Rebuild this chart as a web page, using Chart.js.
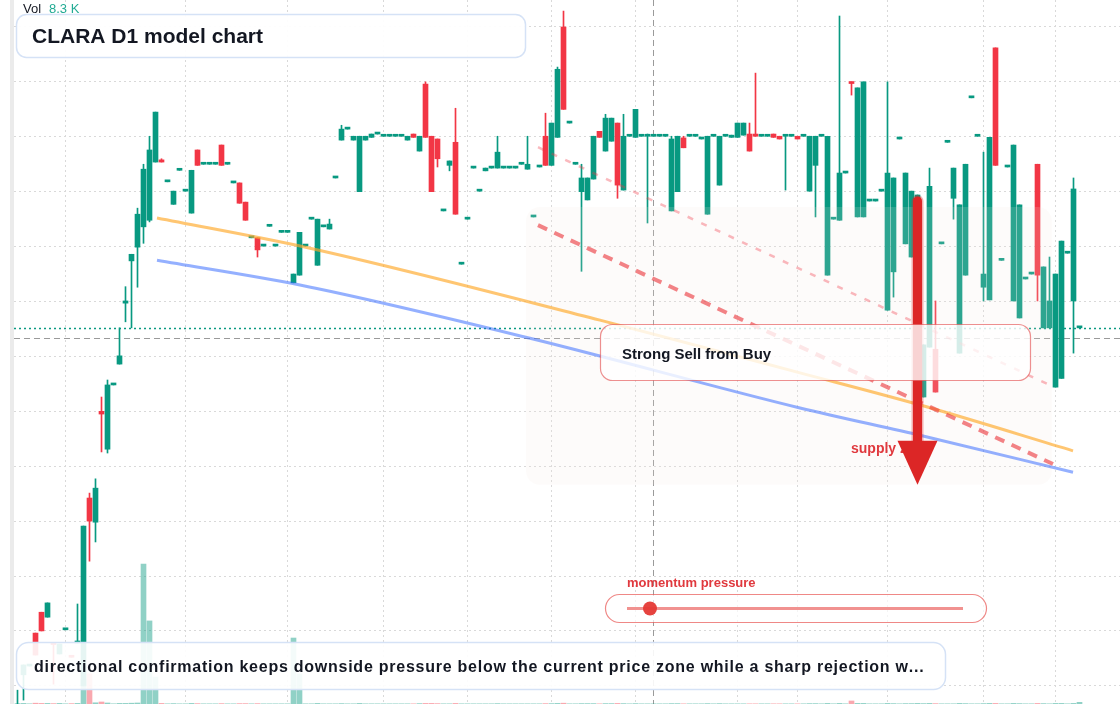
<!DOCTYPE html>
<html>
<head>
<meta charset="utf-8">
<script src="https://cdn.jsdelivr.net/npm/chart.js@4.4.1/dist/chart.umd.min.js"></script>
<style>
    html, body { margin: 0; padding: 0; background: #fff; }
    #wrap { position: relative; width: 1120px; height: 704px; overflow: hidden; }
    canvas { display: block; }
</style>
</head>
<body>
<div id="wrap"><canvas id="chart" width="1120" height="704"></canvas></div>
<script>
// ---- data (daily candles, one per session) ----
var opens = [
    9.55, 10.20, 10.36, 10.96, 11.34, 11.25, 10.77, 10.58, 11.02, 10.53,
    10.78, 10.00, 13.42, 12.98, 15.00, 14.31, 15.48, 15.86, 16.97, 17.74,
    17.99, 18.36, 18.48, 19.54, 19.58, 19.18, 18.77, 19.39, 19.01, 18.61,
    19.76, 19.50, 19.50, 19.50, 19.85, 19.50, 19.16, 19.16, 18.81, 18.16,
    18.16, 18.01, 18.37, 18.01, 18.26, 18.26, 17.34, 17.48, 18.01, 18.50,
    17.66, 18.36, 18.32, 19.25, 19.94, 20.14, 19.94, 19.00, 19.94, 19.99,
    20.05, 20.01, 20.01, 20.01, 20.01, 19.94, 20.05, 19.74, 20.96, 20.01,
    19.96, 18.65, 19.48, 19.90, 17.68, 18.50, 19.43, 19.01, 19.38, 19.43,
    19.43, 19.43, 19.43, 19.43, 19.50, 19.41, 18.54, 19.45, 20.01, 19.48,
    19.99, 22.00, 20.25, 19.50, 19.00, 18.85, 19.23, 20.10, 19.74, 19.92,
    20.25, 19.03, 20.01, 19.99, 20.01, 20.01, 20.01, 20.01, 20.01, 18.65,
    19.00, 19.98, 20.01, 20.01, 19.96, 18.59, 20.01, 19.12, 20.01, 19.99,
    19.99, 20.03, 20.05, 20.05, 20.01, 20.01, 20.05, 20.01, 20.01, 20.01,
    20.01, 20.01, 19.01, 19.48, 20.01, 17.48, 18.50, 18.48, 19.34, 21.00,
    18.54, 18.54, 18.83, 18.83, 19.01, 16.84, 17.54, 19.96, 18.05, 17.81,
    17.03, 15.26, 16.17, 16.13, 18.05, 19.90, 18.88, 16.06, 17.48, 20.71,
    20.01, 17.26, 17.03, 21.62, 17.75, 19.45, 17.01, 16.70, 17.41, 17.50,
    19.50, 16.52, 16.52, 15.44, 15.60, 17.88, 17.01, 16.52
];
var closes = [
    9.65, 10.38, 10.36, 10.56, 11.00, 11.51, 10.75, 10.76, 11.02, 10.52,
    10.79, 12.91, 13.00, 13.60, 14.95, 15.48, 15.48, 16.01, 17.01, 17.86,
    18.59, 19.41, 19.76, 20.45, 19.54, 19.18, 19.01, 19.39, 19.01, 19.39,
    19.48, 19.50, 19.50, 19.50, 19.48, 19.50, 19.16, 18.79, 18.48, 18.16,
    17.94, 18.01, 18.37, 18.01, 18.26, 18.26, 17.50, 18.26, 18.01, 18.50,
    18.50, 18.36, 18.41, 19.25, 20.14, 20.14, 20.01, 20.01, 20.01, 20.05,
    20.05, 20.01, 20.01, 20.01, 20.01, 20.01, 19.99, 20.01, 19.99, 19.00,
    19.60, 18.65, 19.56, 18.59, 17.68, 18.50, 19.43, 19.01, 19.43, 19.43,
    19.72, 19.43, 19.43, 19.43, 19.50, 19.50, 18.54, 19.45, 19.48, 20.25,
    21.23, 20.50, 20.25, 19.50, 19.25, 19.25, 20.01, 19.99, 20.34, 20.34,
    19.12, 20.01, 20.01, 20.50, 20.01, 20.01, 20.01, 20.01, 20.01, 19.96,
    20.01, 19.80, 20.01, 20.01, 19.96, 20.01, 20.01, 20.01, 20.01, 20.03,
    20.25, 20.25, 19.74, 20.01, 20.01, 20.01, 19.99, 19.96, 20.01, 20.01,
    19.96, 20.01, 20.01, 20.01, 20.01, 20.01, 18.50, 19.34, 19.34, 20.97,
    20.89, 21.00, 18.83, 18.83, 19.01, 19.34, 19.25, 19.96, 19.34, 19.01,
    18.94, 16.21, 19.10, 15.35, 18.05, 19.90, 19.43, 18.76, 19.50, 20.71,
    20.01, 17.50, 19.99, 19.48, 17.75, 19.45, 19.85, 18.76, 17.41, 17.50,
    17.48, 17.63, 17.01, 17.50, 18.10, 17.88, 19.05, 16.52
];
// null = no wick beyond the body
var highs = [
    9.92, null, null, null, null, null, null, null, null, null,
    11.49, null, 13.51, 13.77, 15.26, 15.57, null, 16.52, 17.27, null,
    18.70, 19.50, 20.01, null, 19.60, null, null, null, null, null,
    null, null, null, null, null, null, null, null, null, null,
    null, null, null, null, null, null, null, null, null, null,
    null, null, 18.50, null, 20.21, null, null, null, null, null,
    null, null, null, null, null, null, null, null, 21.00, null,
    null, null, null, 20.52, null, null, null, null, null, null,
    20.01, null, null, null, null, 20.01, null, null, 20.43, null,
    21.27, 22.29, null, null, 19.50, null, null, null, 20.41, null,
    null, 20.41, null, null, null, 20.05, null, null, null, 20.01,
    null, 20.01, null, null, null, null, null, null, null, null,
    null, null, 20.25, 21.16, null, null, null, null, null, null,
    null, null, null, null, null, null, null, 22.20, null, null,
    null, null, null, null, null, 21.00, null, null, null, null,
    null, null, 19.43, 17.01, null, null, null, null, null, null,
    null, 19.72, null, null, null, null, null, null, null, null,
    null, null, 17.81, null, null, null, 19.25, null
];
var lows = [
    9.50, 9.74, null, null, null, null, 10.03, null, null, null,
    null, null, 12.27, 12.62, 14.26, 14.24, null, null, 16.63, 16.52,
    17.26, 18.06, 18.45, null, null, null, null, null, null, null,
    null, null, null, null, null, null, null, null, null, null,
    17.81, null, null, null, null, null, null, null, null, null,
    null, null, null, null, null, null, null, null, null, null,
    null, null, null, null, null, null, null, null, null, null,
    19.45, null, 19.38, null, null, null, null, null, null, null,
    null, null, null, null, null, null, null, null, null, null,
    null, null, null, null, 17.55, null, null, null, null, null,
    18.88, null, null, null, null, 18.43, null, null, null, null,
    null, null, null, null, null, null, null, null, null, null,
    null, null, null, null, null, null, null, null, 19.03, null,
    null, null, null, 18.54, null, null, null, null, null, 20.76,
    null, null, null, null, null, null, 17.08, null, null, null,
    null, null, null, null, null, null, 18.50, null, null, null,
    null, 17.01, null, null, null, null, null, null, null, null,
    17.01, null, null, null, null, null, 16.06, null
];
// volume in thousands
var volumes = [
    2, 3, 1, 4, 3, 3, 2, 3, 1, 2,
    3, 124, 150, 6, 10, 5, 1, 3, 3, 4,
    5, 696, 413, 134, 3, 1, 2, 1, 1, 3,
    2, 1, 1, 1, 2, 1, 1, 2, 2, 1,
    2, 1, 1, 1, 1, 1, 328, 150, 1, 1,
    3, 1, 1, 1, 2, 1, 1, 3, 1, 1,
    1, 1, 1, 1, 1, 1, 1, 2, 3, 3,
    2, 1, 1, 3, 1, 1, 1, 1, 1, 1,
    2, 1, 1, 1, 1, 1, 1, 1, 2, 2,
    3, 4, 1, 1, 2, 2, 2, 1, 2, 2,
    3, 2, 1, 2, 1, 1, 1, 1, 1, 2,
    2, 1, 1, 1, 1, 2, 1, 2, 1, 1,
    1, 1, 1, 1, 1, 1, 1, 1, 1, 1,
    1, 1, 2, 2, 1, 3, 1, 3, 1, 15,
    3, 3, 1, 1, 1, 3, 2, 1, 2, 2,
    3, 2, 3, 2, 1, 1, 1, 3, 2, 1,
    1, 2, 3, 3, 1, 1, 3, 2, 1, 1,
    3, 2, 1, 3, 3, 1, 3, 8.3
];
var volLabel = '8.3 K';

// grid ticks (bar index for verticals, price for horizontals)
var gridIdx = [8, 28, 45, 61, 75, 89, 103, 120, 130, 145, 161, 173];
var gridPrices = [10, 11, 12, 13, 14, 15, 16, 17, 18, 19, 20, 21, 22];

// drawn studies, in bar index / price
var orangeIdx = [23.25, 48.75, 97.08, 130.42, 150.92, 175.92];
var orangePrice = [18.52, 17.97, 16.66, 15.70, 15.10, 14.28];
var blueIdx = [23.25, 47.08, 85.42, 130.42, 150.92, 175.92];
var bluePrice = [17.75, 17.30, 16.33, 15.06, 14.55, 13.89];
var lightDashIdx = [86.75, 172.42];
var lightDashPrice = [19.81, 15.46];
var darkDashIdx = [86.75, 172.58];
var darkDashPrice = [18.39, 14.04];
var zoneIdx = [84.75, 172.4];
var zonePrice = [18.72, 13.66];
var arrowIdx = 150;
var arrowPrice = [18.94, 13.66];
var crossIdx = 106;
var crossPrice = 16.335;
var lastPrice = closes[closes.length - 1];

var titleText = 'CLARA D1 model chart';
var calloutText = 'Strong Sell from Buy';
var sliderText = 'momentum pressure';
var zoneText = 'supply zone';
var noteText = 'directional confirmation keeps downside pressure below the current price zone while a sharp rejection w...';

// ---- styling ----
var FONT = '"Liberation Sans", Arial, sans-serif';
var UP = '#089981', DOWN = '#f23645';
var UP_VOL = 'rgba(8,153,129,0.45)', DOWN_VOL = 'rgba(242,54,69,0.43)';
var X_MIN = -0.5833, X_MAX = 183.75;
var P_MIN = 9.6685, P_MAX = 22.4918;
var VOL_MAX = 3500;

function isUp(i) { return closes[i] >= opens[i]; }
function pts(xs, ys) { return xs.map(function (v, i) { return { x: v, y: ys[i] }; }); }

function roundRect(ctx, x, y, w, h, r) {
    ctx.beginPath();
    ctx.moveTo(x + r, y);
    ctx.lineTo(x + w - r, y);
    ctx.arcTo(x + w, y, x + w, y + r, r);
    ctx.lineTo(x + w, y + h - r);
    ctx.arcTo(x + w, y + h, x + w - r, y + h, r);
    ctx.lineTo(x + r, y + h);
    ctx.arcTo(x, y + h, x, y + h - r, r);
    ctx.lineTo(x, y + r);
    ctx.arcTo(x, y, x + r, y, r);
    ctx.closePath();
}

// text with extra tracking, char by char
function spacedText(ctx, str, x, y, spacing) {
    var cx = x;
    for (var i = 0; i < str.length; i++) {
        ctx.fillText(str[i], cx, y);
        cx += ctx.measureText(str[i]).width + spacing;
    }
}

var overlay = {
    id: 'overlay',
    beforeDraw: function (chart) {
        var ctx = chart.ctx;
        ctx.save();
        ctx.fillStyle = '#ffffff';
        ctx.fillRect(0, 0, chart.width, chart.height);
        ctx.fillStyle = '#ebebeb';
        ctx.fillRect(10, 0, 4, chart.height);
        ctx.restore();
    },
    beforeDatasetsDraw: function (chart) {
        var ctx = chart.ctx, a = chart.chartArea, x = chart.scales.x, y = chart.scales.y;
        ctx.save();
        // last price
        var ly = Math.round(y.getPixelForValue(lastPrice)) + 0.5;
        ctx.strokeStyle = UP; ctx.lineWidth = 1.5; ctx.setLineDash([2, 3]);
        ctx.beginPath(); ctx.moveTo(a.left, ly); ctx.lineTo(a.right, ly); ctx.stroke();
        // crosshair
        ctx.strokeStyle = 'rgba(120,120,120,0.75)'; ctx.lineWidth = 1; ctx.setLineDash([6, 4]);
        var cy = Math.round(y.getPixelForValue(crossPrice)) + 0.5;
        var cx = Math.round(x.getPixelForValue(crossIdx)) + 0.5;
        ctx.beginPath(); ctx.moveTo(a.left, cy); ctx.lineTo(a.right, cy); ctx.stroke();
        ctx.beginPath(); ctx.moveTo(cx, a.top); ctx.lineTo(cx, a.bottom); ctx.stroke();
        ctx.restore();
    },
    afterDatasetDraw: function (chart, args) {
        if (chart.data.datasets[args.index].label !== 'bodies') return;
        var ctx = chart.ctx, x = chart.scales.x, y = chart.scales.y;
        var x0 = x.getPixelForValue(zoneIdx[0]), x1 = x.getPixelForValue(zoneIdx[1]);
        var y0 = y.getPixelForValue(zonePrice[0]), y1 = y.getPixelForValue(zonePrice[1]);
        ctx.save();
        ctx.fillStyle = 'rgba(245,232,222,0.16)';
        roundRect(ctx, x0, y0, x1 - x0, y1 - y0, 14);
        ctx.fill();
        ctx.restore();
    },
    afterDraw: function (chart) {
        var ctx = chart.ctx, x = chart.scales.x, y = chart.scales.y;
        ctx.save();
        ctx.textBaseline = 'alphabetic';

        // supply zone label, then arrow over it
        ctx.font = 'bold 14px ' + FONT;
        ctx.fillStyle = '#e0393e';
        ctx.fillText(zoneText, 851, 453);

        var ax = x.getPixelForValue(arrowIdx);
        var aTop = y.getPixelForValue(arrowPrice[0]), aTip = y.getPixelForValue(arrowPrice[1]);
        ctx.strokeStyle = 'rgba(220,38,38,0.35)'; ctx.lineWidth = 12; ctx.lineCap = 'round';
        ctx.beginPath(); ctx.moveTo(ax, aTop + 6); ctx.lineTo(ax, aTip - 40); ctx.stroke();
        ctx.strokeStyle = '#dc2626'; ctx.lineWidth = 9;
        ctx.beginPath(); ctx.moveTo(ax, aTop + 6); ctx.lineTo(ax, aTip - 40); ctx.stroke();
        ctx.fillStyle = '#dc2626';
        ctx.beginPath();
        ctx.moveTo(ax - 20, aTip - 44); ctx.lineTo(ax + 20, aTip - 44); ctx.lineTo(ax, aTip);
        ctx.closePath(); ctx.fill();

        // callout
        roundRect(ctx, 600.5, 324.5, 430, 56, 12);
        ctx.fillStyle = 'rgba(255,255,255,0.8)'; ctx.fill();
        ctx.strokeStyle = 'rgba(225,70,70,0.6)'; ctx.lineWidth = 1.2; ctx.stroke();
        ctx.fillStyle = '#131722';
        ctx.font = 'bold 15px ' + FONT;
        ctx.fillText(calloutText, 622, 359);

        // momentum slider
        ctx.font = 'bold 13px ' + FONT;
        ctx.fillStyle = '#e0393e';
        ctx.fillText(sliderText, 627, 587);
        roundRect(ctx, 605.5, 594.5, 381, 28, 14);
        ctx.fillStyle = 'rgba(255,255,255,0.7)'; ctx.fill();
        ctx.strokeStyle = 'rgba(229,57,53,0.6)'; ctx.lineWidth = 1.2; ctx.stroke();
        ctx.strokeStyle = 'rgba(229,57,53,0.55)'; ctx.lineWidth = 3; ctx.lineCap = 'butt';
        ctx.beginPath(); ctx.moveTo(627, 608.5); ctx.lineTo(963, 608.5); ctx.stroke();
        ctx.fillStyle = 'rgba(229,57,53,0.95)';
        ctx.beginPath(); ctx.arc(650, 608.5, 7, 0, Math.PI * 2); ctx.fill();

        // title box
        roundRect(ctx, 16.5, 14.5, 509, 43, 10);
        ctx.fillStyle = 'rgba(255,255,255,0.94)'; ctx.fill();
        ctx.strokeStyle = '#d5e2f6'; ctx.lineWidth = 1.5; ctx.stroke();
        ctx.fillStyle = '#131722';
        ctx.font = 'bold 21px ' + FONT;
        ctx.fillText(titleText, 32, 43);

        // bottom note
        roundRect(ctx, 16.5, 642.5, 929, 47, 12);
        ctx.fillStyle = 'rgba(255,255,255,0.9)'; ctx.fill();
        ctx.strokeStyle = '#d5e2f6'; ctx.lineWidth = 1.5; ctx.stroke();
        ctx.fillStyle = '#131722';
        ctx.font = 'bold 16px ' + FONT;
        spacedText(ctx, noteText, 34, 672, 0.75);

        // volume legend
        ctx.font = '13px ' + FONT;
        ctx.fillStyle = '#131722';
        ctx.fillText('Vol', 23, 13);
        ctx.fillStyle = '#22ab94';
        ctx.fillText(volLabel, 49, 13);
        ctx.restore();
    }
};

var bodyData = opens.map(function (o, i) { return { x: i, y: [o, closes[i]] }; });
var wickData = opens.map(function (o, i) {
    var hi = highs[i] !== null ? highs[i] : Math.max(o, closes[i]);
    var lo = lows[i] !== null ? lows[i] : Math.min(o, closes[i]);
    return { x: i, y: [lo, hi] };
});
var volData = volumes.map(function (v, i) { return { x: i, y: v }; });

var hiddenAxis = function (extra) {
    return Object.assign({
        type: 'linear',
        offset: false,
        grid: { offset: false, color: '#d9d9d9', lineWidth: 1, drawTicks: false },
        border: { display: false, dash: [2, 3] },
        ticks: { display: false }
    }, extra);
};

new Chart(document.getElementById('chart'), {
    type: 'bar',
    data: {
        datasets: [
            { label: 'volume', data: volData, yAxisID: 'yv', grouped: false, barThickness: 5, order: 6,
              backgroundColor: function (c) { return isUp(c.dataIndex) ? UP_VOL : DOWN_VOL; } },
            { label: 'wicks', data: wickData, yAxisID: 'y', grouped: false, barThickness: 1, order: 5,
              backgroundColor: function (c) { return isUp(c.dataIndex) ? UP : DOWN; } },
            { label: 'bodies', data: bodyData, yAxisID: 'y', grouped: false, barThickness: 5, minBarLength: 2, order: 4,
              backgroundColor: function (c) { return isUp(c.dataIndex) ? UP : DOWN; } },
            { type: 'line', label: 'orange', data: pts(orangeIdx, orangePrice), yAxisID: 'y', order: 3,
              borderColor: 'rgba(255,167,38,0.65)', borderWidth: 3, pointRadius: 0, cubicInterpolationMode: 'monotone' },
            { type: 'line', label: 'blue', data: pts(blueIdx, bluePrice), yAxisID: 'y', order: 3,
              borderColor: 'rgba(41,98,255,0.5)', borderWidth: 3, pointRadius: 0, cubicInterpolationMode: 'monotone' },
            { type: 'line', label: 'light dash', data: pts(lightDashIdx, lightDashPrice), yAxisID: 'y', order: 2,
              borderColor: 'rgba(242,54,69,0.35)', borderWidth: 2.5, borderDash: [6, 9], pointRadius: 0 },
            { type: 'line', label: 'dark dash', data: pts(darkDashIdx, darkDashPrice), yAxisID: 'y', order: 1,
              borderColor: 'rgba(235,50,55,0.6)', borderWidth: 4, borderDash: [10, 8], pointRadius: 0 }
        ]
    },
    options: {
        responsive: false, animation: false, devicePixelRatio: 1,
        layout: { padding: { left: 14, right: 0, top: 0, bottom: 0 } },
        plugins: { legend: { display: false }, tooltip: { enabled: false } },
        scales: {
            x: hiddenAxis({ min: X_MIN, max: X_MAX,
                afterBuildTicks: function (s) { s.ticks = gridIdx.map(function (v) { return { value: v }; }); } }),
            y: hiddenAxis({ position: 'left', min: P_MIN, max: P_MAX, beginAtZero: false,
                afterBuildTicks: function (s) { s.ticks = gridPrices.map(function (v) { return { value: v }; }); },
                afterFit: function (s) { s.width = 0; } }),
            yv: { type: 'linear', display: false, min: 0, max: VOL_MAX }
        }
    },
    plugins: [overlay]
});
</script>
</body>
</html>
